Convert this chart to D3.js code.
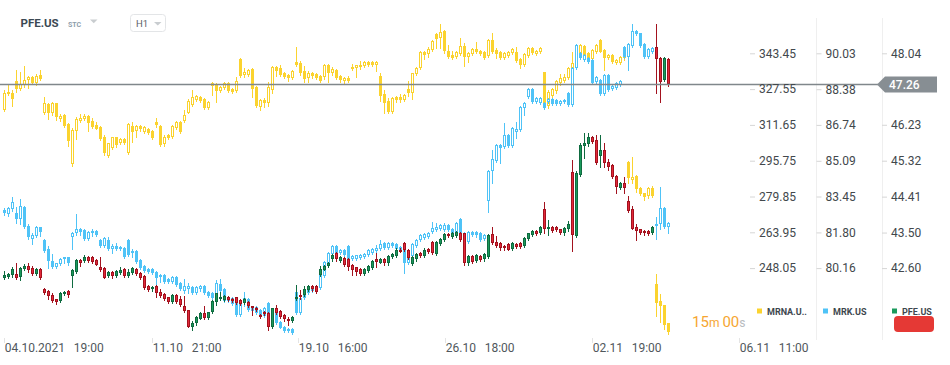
<!DOCTYPE html>
<html>
<head>
<meta charset="utf-8">
<script src="https://cdn.jsdelivr.net/npm/d3@7"></script>
<style>
body { margin: 0; background: #fff; }
svg text { font-family: Roboto, "Noto Sans", sans-serif; }
</style>
</head>
<body>
<script>
// hourly candles [open, high, low, close], one per bar, same time axis for all three
var mrna = [
  [318.3,327.1,317.8,325.9],[326.4,329.4,324.9,325.4],[325.8,327.1,320.2,323.3],[331.1,336.0,326.4,327.6],[327.7,335.3,327.1,329.7],
  [329.4,337.8,328.6,331.6],[331.6,333.4,328.2,332.8],[332.8,333.4,329.8,330.4],[330.1,334.2,329.4,333.5],[333.8,336.0,331.6,332.0],
  [316.8,324.0,316.5,321.2],[320.9,321.4,314.4,317.1],[316.8,321.8,316.0,321.2],[321.2,321.4,313.8,315.3],[314.3,316.5,313.5,315.7],
  [316.0,316.5,310.7,311.3],[312.0,312.5,302.3,304.6],[294.2,310.3,293.5,309.4],[309.1,315.3,305.4,314.3],[313.5,316.5,312.9,314.7],
  [314.4,316.5,313.8,315.6],[315.6,316.0,309.1,312.4],[313.4,314.7,310.3,310.8],[311.6,313.1,309.7,309.9],[310.6,311.1,304.9,305.5],
  [306.4,307.1,298.3,299.0],[297.9,303.7,297.5,303.5],[301.2,306.4,300.8,306.1],[306.1,306.4,301.9,302.7],[303.5,305.8,303.0,305.4],
  [305.4,305.8,303.3,303.7],[299.0,312.4,298.6,311.9],[311.3,313.1,304.2,308.3],[308.9,311.6,306.4,311.1],[311.1,311.6,309.1,309.9],
  [308.6,311.3,308.2,310.8],[309.7,310.1,307.7,308.2],[308.9,309.4,305.5,305.9],[313.1,314.6,310.8,311.6],[311.1,311.6,302.3,302.7],
  [303.0,307.1,302.3,306.4],[307.1,307.6,305.2,305.7],[306.1,311.6,305.7,311.1],[310.4,313.5,309.9,313.1],[313.1,313.5,308.2,308.6],
  [313.4,318.3,312.9,316.0],[317.1,323.0,316.8,322.2],[320.3,327.1,320.0,323.9],[322.7,324.9,322.2,324.5],[323.9,324.3,321.8,322.2],
  [323.1,323.5,318.6,319.0],[319.3,322.1,318.8,321.7],[328.9,330.8,324.9,330.1],[329.4,330.1,321.9,326.7],[326.8,329.0,326.4,328.6],
  [327.9,330.8,327.5,330.4],[330.1,330.6,326.4,326.8],[327.6,328.0,325.9,326.4],[326.7,332.8,326.3,331.1],[340.8,341.4,332.9,333.5],
  [333.8,337.0,332.8,335.3],[333.8,336.5,333.4,336.0],[336.5,336.9,323.9,327.6],[328.6,329.0,319.6,320.0],[319.7,323.1,318.3,322.7],
  [322.7,323.5,319.5,321.5],[321.5,330.8,320.0,328.6],[327.1,337.8,325.9,337.5],[337.5,337.8,333.5,335.6],[337.0,338.2,333.4,333.8],
  [334.8,335.3,332.3,333.1],[333.8,334.2,331.3,332.3],[332.6,336.0,332.2,335.6],[339.7,346.4,337.8,338.2],[339.3,340.0,333.8,334.6],
  [335.6,337.8,330.8,332.0],[332.3,335.6,330.8,334.6],[334.6,335.0,332.3,333.5],[334.1,334.6,332.2,332.6],[333.4,333.8,330.8,331.3],
  [333.1,338.7,331.9,338.2],[338.2,338.7,330.8,334.6],[334.6,337.2,333.8,336.3],[336.0,336.5,332.2,332.6],[333.4,333.8,330.6,331.6],
  [331.3,332.8,329.7,332.3],[332.5,333.4,330.8,331.3],[336.3,338.6,336.0,337.2],[336.8,338.4,333.1,338.1],[337.2,340.0,336.3,338.1],
  [337.8,339.9,337.4,339.5],[339.5,339.9,337.9,338.4],[339.5,339.9,337.8,338.2],[338.2,339.9,335.7,339.5],[333.4,334.6,322.4,324.5],
  [325.4,327.1,317.1,321.5],[322.2,323.6,317.1,317.5],[317.5,323.9,317.1,323.5],[323.9,324.5,321.9,322.7],[323.9,325.4,321.9,322.7],
  [322.7,325.4,322.2,324.9],[327.6,331.1,324.6,325.7],[325.7,334.7,323.0,334.6],[334.2,337.5,333.8,337.0],[336.8,344.3,336.3,343.9],
  [343.9,344.3,340.8,342.8],[343.0,346.2,341.8,345.2],[344.9,349.4,344.5,348.8],[352.0,352.6,345.7,349.7],[350.1,356.5,345.7,353.0],
  [353.4,353.8,343.4,344.6],[344.6,347.1,341.5,341.9],[342.7,344.6,340.8,341.5],[341.7,344.3,341.2,343.9],[343.1,350.1,342.7,346.7],
  [346.7,347.9,337.9,341.9],[341.9,343.9,339.5,343.4],[343.0,345.8,342.6,345.4],[345.2,348.3,343.4,343.9],[344.5,344.9,342.8,343.3],
  [343.9,344.3,340.8,341.2],[342.4,349.8,341.9,349.4],[349.4,352.3,343.7,344.2],[344.9,345.7,341.5,343.0],[343.9,344.3,341.0,341.5],
  [341.5,343.9,341.0,343.4],[342.4,344.6,341.9,344.2],[343.4,345.8,343.0,345.4],[343.9,346.4,339.6,340.0],[340.9,341.4,336.8,338.2],
  [338.2,343.4,337.8,343.0],[342.4,346.1,341.9,345.7],[345.7,346.1,343.3,343.7],[343.0,344.9,342.6,344.5],[343.9,346.1,343.4,345.7],
  [335.0,335.3,320.5,321.2],[320.2,327.1,319.0,326.1],[324.6,328.0,324.2,327.6],[326.7,331.6,325.7,331.1],[330.1,334.1,329.4,332.3],
  [331.1,334.1,330.8,333.1],[332.3,337.5,331.9,337.0],[337.0,344.2,336.6,339.0],[338.2,343.9,336.8,342.7],[342.4,347.6,341.9,347.1],
  [346.8,347.1,341.2,341.9],[343.4,343.9,340.8,341.2],[340.8,345.4,340.3,344.9],[344.2,347.6,343.7,347.1],[349.4,349.8,343.9,344.2],
  [344.9,345.4,336.0,341.2],[341.5,343.1,341.0,342.7],[342.7,343.1,339.0,339.5],[339.0,340.9,338.6,340.5],[339.0,342.4,338.6,341.9],
  [341.2,343.9,340.5,343.4],[295.3,295.6,285.7,287.9],[287.1,297.2,285.7,288.3],[288.9,289.4,282.0,283.0],[283.5,284.2,280.5,280.9],
  [281.2,281.4,278.3,279.7],[280.0,284.2,279.0,283.7],[283.7,284.5,279.7,280.0],[241.2,245.4,226.7,232.6],[233.4,236.5,224.2,231.2],
  [231.6,231.6,220.9,222.7],[223.5,223.6,219.0,219.7]
];

var mrk = [
  [82.83,82.90,82.60,82.67],[82.63,82.96,82.55,82.90],[82.86,83.41,82.80,83.21],[82.67,82.95,82.21,82.40],[82.40,83.32,82.17,83.01],
  [82.95,83.01,81.98,82.03],[82.09,82.18,81.51,81.57],[81.48,81.77,81.26,81.68],[81.63,82.09,81.59,82.03],[82.03,82.06,81.63,81.83],
  [81.45,81.49,80.90,80.96],[81.02,81.17,80.15,80.50],[80.48,80.80,80.15,80.19],[80.22,80.40,80.15,80.38],[80.34,80.64,80.30,80.59],
  [80.56,80.69,80.38,80.65],[80.65,80.69,80.32,80.38],[81.57,81.83,81.03,81.76],[81.76,82.64,81.68,81.94],[81.94,82.01,81.68,81.83],
  [81.91,81.95,81.45,81.49],[81.49,81.85,81.45,81.80],[81.76,81.94,81.65,81.86],[81.86,81.91,81.63,81.68],[81.45,81.49,81.14,81.19],
  [81.19,81.57,81.14,81.53],[81.45,81.57,80.99,81.02],[81.02,81.26,80.86,81.19],[81.19,81.30,80.99,81.03],[81.14,81.19,80.97,81.02],
  [81.07,81.11,80.61,80.65],[81.45,81.49,80.71,80.76],[80.84,81.02,80.68,80.96],[80.96,81.00,80.40,80.45],[80.53,80.57,80.10,80.15],
  [80.25,80.30,79.99,80.04],[80.11,80.16,79.94,79.99],[80.11,80.16,79.90,79.94],[79.96,80.01,79.42,79.69],[79.73,79.88,79.53,79.84],
  [79.84,79.88,79.48,79.53],[79.67,79.72,79.48,79.53],[79.53,79.78,79.48,79.73],[79.73,79.78,79.33,79.38],[79.48,79.53,79.15,79.19],
  [79.10,79.64,79.00,79.33],[79.18,79.46,79.02,79.33],[79.27,79.32,78.95,79.00],[79.02,79.32,78.98,79.27],[79.18,79.38,79.12,79.33],
  [79.33,79.38,78.98,79.02],[79.04,79.09,78.83,78.87],[79.02,79.07,78.75,78.79],[78.87,79.61,78.81,79.46],[79.42,79.65,79.07,79.12],
  [79.18,79.23,78.61,78.66],[78.66,78.86,78.61,78.81],[78.77,78.81,78.46,78.51],[78.66,78.70,77.95,78.00],[78.00,78.66,77.95,78.61],
  [78.54,79.04,78.41,78.77],[78.72,78.77,78.18,78.23],[78.20,78.40,78.15,78.35],[78.35,78.40,78.06,78.11],[78.23,78.28,77.91,77.95],
  [77.95,78.35,77.91,78.31],[78.54,78.58,77.95,78.00],[77.89,78.09,77.85,78.05],[78.08,78.12,77.57,77.62],[77.69,77.74,77.39,77.43],
  [77.46,77.51,77.23,77.28],[77.36,77.40,77.22,77.26],[77.36,77.40,77.14,77.19],[79.06,79.10,78.06,78.11],[78.11,78.83,78.06,78.78],
  [78.78,79.24,78.73,79.19],[79.00,79.33,78.95,79.29],[79.27,79.32,79.07,79.12],[79.15,79.38,79.10,79.33],[79.23,79.88,79.18,79.84],
  [79.79,80.48,79.75,80.44],[80.38,80.88,80.33,80.84],[80.79,81.22,80.74,81.17],[81.17,81.22,80.79,80.84],[80.86,81.03,80.82,80.99],
  [80.99,81.03,80.71,80.76],[81.17,81.22,80.17,80.22],[80.57,80.76,80.53,80.71],[80.60,80.78,80.55,80.74],[80.61,80.80,80.56,80.76],
  [80.65,80.85,80.61,80.80],[80.76,81.03,80.71,80.99],[80.84,81.07,80.79,81.02],[80.96,81.22,80.91,81.07],[81.02,81.45,80.97,81.25],
  [81.30,81.34,81.02,81.07],[81.09,81.34,81.05,81.30],[81.30,81.34,81.14,81.19],[81.26,81.31,80.99,81.03],[80.99,81.19,80.94,81.14],
  [80.99,81.03,79.94,80.40],[80.40,80.85,80.36,80.80],[80.71,81.31,80.67,81.26],[81.17,81.49,81.13,81.45],[81.45,81.72,81.40,81.68],
  [81.55,81.76,81.51,81.71],[81.60,81.80,81.55,81.76],[81.83,82.29,81.78,81.99],[81.91,82.24,81.86,82.06],[81.95,82.18,81.91,82.14],
  [81.91,82.24,81.86,82.14],[82.14,82.18,81.86,81.91],[81.94,81.99,81.63,81.68],[81.78,82.26,81.74,82.21],[82.40,82.45,81.63,81.68],
  [81.76,81.80,81.32,81.37],[81.37,81.85,81.32,81.80],[81.83,81.87,81.63,81.68],[81.82,81.86,81.61,81.66],[81.77,81.82,81.40,81.45],
  [81.49,81.72,81.45,81.68],[83.24,84.67,82.73,84.62],[84.62,85.58,84.07,85.17],[85.09,85.86,85.05,85.81],[85.81,85.86,85.00,85.69],
  [85.74,86.81,85.69,86.27],[86.27,86.32,85.72,85.77],[85.78,86.63,85.74,86.58],[86.43,86.87,86.14,86.55],[86.50,87.62,86.46,87.57],
  [87.50,87.79,87.19,87.73],[88.03,88.43,87.99,88.39],[88.39,88.43,87.73,87.78],[87.78,88.01,87.73,87.96],[87.75,88.02,87.70,87.97],
  [87.73,87.78,87.48,87.53],[87.78,87.97,87.73,87.93],[87.93,87.97,87.65,87.70],[87.88,87.93,87.65,87.70],[87.69,87.88,87.64,87.84],
  [87.78,87.93,87.73,87.88],[88.19,88.24,87.61,87.65],[87.65,89.39,87.61,89.34],[89.34,90.46,89.29,90.41],[90.03,90.08,89.78,89.83],
  [89.72,90.00,89.68,89.95],[89.80,89.85,89.60,89.64],[89.72,89.77,88.61,88.65],[88.72,89.00,88.68,88.95],[88.80,88.85,88.10,88.14],
  [88.14,89.08,88.10,89.03],[89.03,89.08,88.30,88.34],[88.37,88.57,88.33,88.53],[88.45,88.70,88.40,88.65],[88.57,88.80,88.53,88.76],
  [90.33,90.38,89.83,89.87],[89.87,90.49,89.26,90.44],[90.38,91.36,90.33,91.05],[91.05,91.10,90.86,90.90],[90.95,90.98,90.33,90.38],
  [90.44,90.49,89.83,89.87],[89.87,90.27,89.83,90.23],[90.09,90.32,90.04,90.27],[82.09,82.52,81.49,82.17],[82.17,83.90,81.95,82.90],
  [82.90,82.95,82.01,82.06],[82.06,82.26,81.78,82.21]
];

var pfe = [
  [42.35,42.52,42.32,42.42],[42.38,42.47,42.35,42.45],[42.42,42.62,42.38,42.57],[42.44,42.74,42.33,42.35],[42.38,42.63,42.31,42.59],
  [42.57,42.70,42.54,42.65],[42.65,42.73,42.50,42.55],[42.59,42.66,42.42,42.45],[42.45,42.60,42.42,42.57],[42.57,42.59,42.33,42.35],
  [42.06,42.09,41.95,41.97],[42.02,42.04,41.81,41.90],[41.93,41.96,41.74,41.76],[41.81,41.81,41.69,41.75],[41.77,42.00,41.75,41.97],
  [41.94,42.02,41.92,42.00],[42.02,42.04,41.86,41.92],[42.40,42.57,42.11,42.55],[42.51,42.83,42.48,42.80],[42.80,42.83,42.65,42.73],
  [42.78,42.92,42.76,42.87],[42.87,42.90,42.76,42.78],[42.87,42.90,42.73,42.76],[42.80,42.83,42.67,42.69],[42.62,42.87,42.52,42.55],
  [42.59,42.62,42.34,42.36],[42.40,42.52,42.38,42.49],[42.49,42.52,42.36,42.40],[42.40,42.55,42.38,42.52],[42.48,42.62,42.46,42.55],
  [42.57,42.59,42.37,42.40],[42.40,42.57,42.38,42.49],[42.47,42.62,42.44,42.59],[42.57,42.59,42.42,42.45],[42.48,42.51,42.33,42.35],
  [42.40,42.42,42.06,42.09],[42.14,42.17,42.02,42.04],[42.06,42.14,42.03,42.11],[42.14,42.17,41.86,41.97],[42.00,42.06,41.87,41.90],
  [41.94,41.97,41.79,41.81],[41.86,41.88,41.72,41.75],[41.75,41.94,41.72,41.92],[41.92,41.94,41.72,41.75],[41.81,41.89,41.64,41.66],
  [41.64,41.89,41.48,41.51],[41.54,41.55,41.10,41.11],[41.11,41.25,41.03,41.22],[41.20,41.39,41.17,41.37],[41.32,41.49,41.30,41.47],
  [41.47,41.64,41.31,41.34],[41.34,41.50,41.31,41.48],[41.49,41.79,41.47,41.76],[41.75,41.98,41.66,41.96],[41.81,42.00,41.78,41.87],
  [41.79,41.92,41.76,41.89],[41.87,41.89,41.76,41.79],[41.81,41.84,41.75,41.77],[41.86,41.88,41.68,41.71],[41.79,41.81,41.66,41.69],
  [41.71,41.84,41.69,41.81],[41.74,41.76,41.61,41.64],[41.64,41.64,41.41,41.58],[41.59,41.62,41.51,41.54],[41.41,41.43,41.34,41.37],
  [41.48,41.51,41.41,41.43],[41.47,41.48,41.03,41.11],[41.11,41.60,41.09,41.58],[41.58,41.66,41.44,41.47],[41.52,41.54,41.34,41.37],
  [41.41,41.43,41.27,41.30],[41.32,41.35,41.15,41.26],[41.26,41.39,41.24,41.37],[41.81,42.17,41.78,41.87],[41.92,42.04,41.83,41.86],
  [41.92,42.14,41.89,42.06],[42.04,42.17,42.02,42.14],[42.14,42.17,42.03,42.06],[42.14,42.17,41.97,42.00],[42.42,42.65,42.40,42.57],
  [42.56,42.68,42.54,42.65],[42.65,42.76,42.63,42.73],[42.82,42.95,42.79,42.93],[42.99,43.01,42.79,42.82],[42.78,42.90,42.76,42.87],
  [42.86,42.89,42.65,42.68],[42.82,42.85,42.55,42.63],[42.68,42.70,42.42,42.55],[42.62,42.64,42.42,42.51],[42.57,42.60,42.42,42.45],
  [42.45,42.60,42.42,42.57],[42.53,42.68,42.51,42.65],[42.61,42.80,42.58,42.78],[42.82,42.97,42.63,42.76],[42.74,42.85,42.72,42.82],
  [42.82,42.85,42.69,42.72],[42.72,42.93,42.69,42.90],[42.87,42.98,42.85,42.95],[42.90,43.10,42.88,43.07],[43.07,43.10,43.01,43.04],
  [43.23,43.25,43.03,43.06],[43.06,43.08,42.83,42.85],[42.70,42.90,42.68,42.87],[42.82,42.98,42.79,42.95],[42.99,43.01,42.88,42.90],
  [42.90,43.10,42.88,43.07],[43.08,43.11,42.99,43.01],[43.25,43.28,42.95,42.97],[42.95,43.29,42.93,43.27],[43.21,43.35,43.18,43.33],
  [43.31,43.49,43.28,43.46],[43.46,43.49,43.39,43.41],[43.39,43.52,43.37,43.49],[43.42,43.54,43.40,43.51],[43.49,43.51,43.28,43.31],
  [43.48,43.50,42.68,42.72],[42.72,42.93,42.69,42.90],[42.90,42.93,42.73,42.76],[42.78,42.95,42.75,42.93],[42.90,42.93,42.78,42.80],
  [42.82,42.98,42.79,42.95],[42.89,43.46,42.86,43.43],[43.46,43.65,43.20,43.23],[43.27,43.41,43.14,43.17],[43.24,43.27,43.07,43.10],
  [43.17,43.19,43.07,43.10],[43.21,43.23,43.05,43.07],[43.08,43.25,43.06,43.23],[43.21,43.23,43.11,43.14],[43.23,43.25,43.11,43.14],
  [43.16,43.38,43.13,43.35],[43.33,43.50,43.30,43.48],[43.43,43.56,43.41,43.54],[43.54,43.56,43.43,43.46],[43.49,43.67,43.47,43.65],
  [44.09,44.28,43.49,43.58],[43.58,43.83,43.43,43.65],[43.65,43.67,43.52,43.54],[43.63,43.66,43.54,43.56],[43.58,43.60,43.47,43.49],
  [43.48,43.65,43.45,43.62],[43.58,43.79,43.55,43.71],[45.04,45.35,43.04,43.43],[43.42,45.05,43.39,45.02],[44.96,45.76,44.93,45.73],
  [45.69,46.01,45.40,45.76],[45.74,46.01,45.69,45.91],[45.91,45.94,45.77,45.80],[45.84,45.97,45.24,45.27],[45.44,45.97,45.15,45.59],
  [45.59,45.76,45.17,45.25],[45.28,45.36,45.08,45.17],[45.21,45.23,44.87,44.90],[44.93,44.96,44.51,44.66],[44.63,44.77,44.61,44.75],
  [44.76,44.90,44.49,44.63],[44.30,44.42,44.03,44.05],[44.09,44.17,43.58,43.60],[43.63,43.71,43.31,43.54],[43.58,43.60,43.47,43.49],
  [43.54,43.56,43.45,43.48],[43.54,43.56,43.43,43.46],[43.49,43.66,43.47,43.63],[48.21,48.78,47.04,47.89],[47.93,47.95,46.81,47.32],
  [47.36,47.94,47.34,47.91],[47.89,47.91,47.21,47.26]
];

var mrnaTicks = [343.45, 327.55, 311.65, 295.75, 279.85, 263.95, 248.05];
var mrkTicks = [90.03, 88.38, 86.74, 85.09, 83.45, 81.80, 80.16];
var pfeTicks = [48.04, 46.23, 45.32, 44.41, 43.50, 42.60];
var lastPrice = 47.26;

// bar index where each time label sits
var timeLabels = [
  {at: 0, date: "04.10.2021", time: "19:00"},
  {at: 37, date: "11.10", time: "21:00"},
  {at: 73.5, date: "19.10", time: "16:00"},
  {at: 110.25, date: "26.10", time: "18:00"},
  {at: 147, date: "02.11", time: "19:00"},
  {at: 183.75, date: "06.11", time: "11:00"}
];

var legendItems = [
  {name: "MRNA.U..", color: "#fbd32f"},
  {name: "MRK.US", color: "#4fc3f7"},
  {name: "PFE.US", color: "#1a9a5c"}
];

var svg = d3.select("body").append("svg")
    .attr("width", 950)
    .attr("height", 365);

var x = d3.scaleLinear().domain([0, mrna.length - 1]).range([4, 668]);
var yMrna = d3.scaleLinear().domain([248.05, 343.45]).range([268.1, 53.3]);
var yMrk = d3.scaleLinear().domain([80.16, 90.03]).range([268.1, 53.3]);
var yPfe = d3.scaleLinear().domain([42.60, 48.04]).range([268.1, 53.3]);

// header
svg.append("text").attr("x", 20.5).attr("y", 27.3)
    .style("font-size", "11.5px").style("font-weight", "bold")
    .attr("fill", "#3b4954").text("PFE.US");
svg.append("text").attr("x", 68).attr("y", 26.7)
    .style("font-size", "7px").style("font-weight", "bold")
    .attr("fill", "#8d9daa").text("STC");
svg.append("path").attr("d", "M90,19.5 L97.5,19.5 L93.75,23.2 Z").attr("fill", "#c9cdd0");
svg.append("rect").attr("x", 130.5).attr("y", 14.5).attr("width", 35).attr("height", 17).attr("rx", 3)
    .attr("fill", "none").attr("stroke", "#e3e5e7");
svg.append("text").attr("x", 136).attr("y", 26.7)
    .style("font-size", "9.5px").attr("fill", "#5a6166").text("H1");
svg.append("path").attr("d", "M154,22 L161.5,22 L157.75,25.6 Z").attr("fill", "#c9cdd0");

// right axis column separators
[816.5, 882.5].forEach(function(sx){
    svg.append("line").attr("x1", sx).attr("x2", sx).attr("y1", 18).attr("y2", 340)
        .attr("stroke", "#efefef");
});

function drawCandles(data, y, st) {
    var g = svg.append("g");
    var c = g.selectAll("g").data(data).enter().append("g");
    c.append("line")
        .attr("x1", function(d, i){ return Math.round(x(i)) + 0.5; })
        .attr("x2", function(d, i){ return Math.round(x(i)) + 0.5; })
        .attr("y1", function(d){ return Math.round(y(d[1])); })
        .attr("y2", function(d){ return Math.round(y(d[2])) + 1; })
        .attr("stroke", function(d){ return d[3] >= d[0] ? st.upWick : st.downWick; });
    c.append("rect").each(function(d, i){
        var cx = Math.round(x(i));
        var top = Math.round(y(Math.max(d[0], d[3])));
        var bot = Math.round(y(Math.min(d[0], d[3])));
        if (bot - top < 2) bot = top + 2;
        var up = d[3] >= d[0];
        d3.select(this)
            .attr("x", cx - 0.5).attr("width", 2)
            .attr("y", top + 0.5).attr("height", bot - top - 1)
            .attr("fill", up ? st.upFill : st.downFill)
            .attr("stroke", up ? st.upStroke : st.downStroke);
    });
}

drawCandles(mrna, yMrna, {upWick: "#fbd32f", downWick: "#fbd32f", upFill: "#fff", downFill: "#fbd32f", upStroke: "#fbd32f", downStroke: "#fbd32f"});
drawCandles(mrk, yMrk, {upWick: "#4fc3f7", downWick: "#4fc3f7", upFill: "#fff", downFill: "#4fc3f7", upStroke: "#4fc3f7", downStroke: "#4fc3f7"});
drawCandles(pfe, yPfe, {upWick: "#0f6b40", downWick: "#a3121e", upFill: "#1a9a5c", downFill: "#e3283a", upStroke: "#0f6b40", downStroke: "#a3121e"});

// current price line and tag
var py = Math.round(yPfe(lastPrice)) + 0.5;
svg.append("line").attr("x1", 0).attr("x2", 878).attr("y1", py).attr("y2", py)
    .attr("stroke", "#80878b").attr("stroke-width", 1.4);
svg.append("path")
    .attr("d", "M877," + py + " L885," + (py - 8) + " L937," + (py - 8) + " L937," + (py + 8) + " L885," + (py + 8) + " Z")
    .attr("fill", "#878e93");

// price axes
function priceAxis(ticks, y, left) {
    var ax = d3.axisRight(y).tickValues(ticks).tickSize(5).tickPadding(4).tickFormat(d3.format(".2f"));
    var g = svg.append("g").attr("transform", "translate(" + left + ",0)").call(ax);
    g.attr("font-size", 12).attr("font-family", "Roboto, sans-serif");
    g.select(".domain").remove();
    g.selectAll(".tick line").attr("stroke", "#d6d6d6");
    g.selectAll(".tick text").attr("fill", "#42484c");
}
priceAxis(mrnaTicks, yMrna, 750);
priceAxis(mrkTicks, yMrk, 816.5);
priceAxis(pfeTicks, yPfe, 882);

svg.append("text").attr("x", 889).attr("y", py + 4.2)
    .style("font-size", "12px").style("font-weight", "500")
    .attr("fill", "#fff").text(d3.format(".2f")(lastPrice));

// time axis
var gTime = svg.append("g");
timeLabels.forEach(function(t){
    var tx = x(t.at);
    gTime.append("line").attr("x1", Math.round(tx) + 0.5).attr("x2", Math.round(tx) + 0.5)
        .attr("y1", 338).attr("y2", 343).attr("stroke", "#e4e4e4");
    var dt = gTime.append("text").attr("x", tx + 0.8).attr("y", 351.5)
        .style("font-size", "12px").attr("fill", "#50575c").text(t.date);
    var w = dt.node().getComputedTextLength();
    gTime.append("text").attr("x", tx + Math.max(36, w + 9.5)).attr("y", 351.5)
        .style("font-size", "12px").attr("fill", "#50575c").text(t.time);
});

// legend
var legendX = [757, 823, 892];
legendItems.forEach(function(d, i){
    svg.append("rect").attr("x", legendX[i]).attr("y", 308.5).attr("width", 5).attr("height", 5).attr("fill", d.color);
    svg.append("text").attr("x", legendX[i] + 10).attr("y", 314.6)
        .style("font-size", "9px").style("font-weight", "bold")
        .attr("fill", "#3e474e").text(d.name);
});
svg.append("rect").attr("x", 894).attr("y", 316).attr("width", 40).attr("height", 16).attr("rx", 4)
    .attr("fill", "#e53935");

// countdown
var cd = svg.append("text").attr("x", 692).attr("y", 327);
cd.append("tspan").style("font-size", "15px").attr("fill", "#f6a631").text("15");
cd.append("tspan").style("font-size", "12px").attr("fill", "#f6a631").text("m ");
cd.append("tspan").style("font-size", "15px").attr("fill", "#f6a631").text("00");
cd.append("tspan").style("font-size", "12px").attr("fill", "#b8bcbf").text("s");
</script>
</body>
</html>
